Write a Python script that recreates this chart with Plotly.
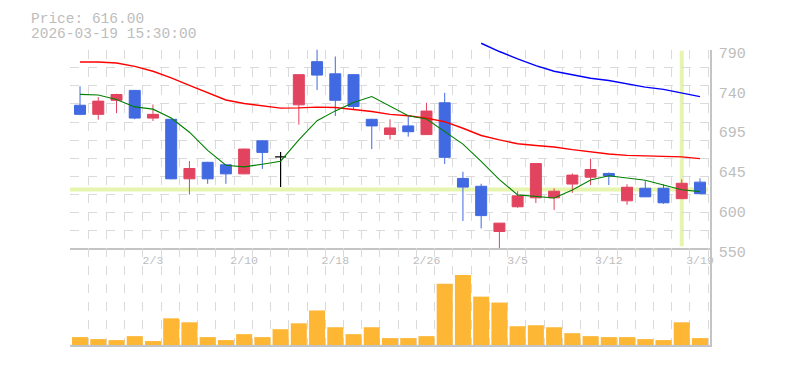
import numpy as np
import plotly.graph_objects as go

# ---------------- data ----------------
dates = ["2026-01-28", "2026-01-29", "2026-01-30", "2026-02-02", "2026-02-03",
         "2026-02-04", "2026-02-05", "2026-02-06", "2026-02-09", "2026-02-10",
         "2026-02-12", "2026-02-13", "2026-02-16", "2026-02-17", "2026-02-18",
         "2026-02-19", "2026-02-20", "2026-02-24", "2026-02-25", "2026-02-26",
         "2026-02-27", "2026-03-02", "2026-03-03", "2026-03-04", "2026-03-05",
         "2026-03-06", "2026-03-09", "2026-03-10", "2026-03-11", "2026-03-12",
         "2026-03-13", "2026-03-16", "2026-03-17", "2026-03-18", "2026-03-19"]

opens = [723, 712, 729, 741, 707.5, 706, 634, 654, 651, 640,
         680, 660.5, 723.5, 775.7, 761, 760, 706, 687.7, 698, 687.5,
         726, 634.5, 625, 570.3, 600.2, 611, 611, 627.7, 636, 640.5,
         607.4, 622.6, 622.6, 610, 630]
highs = [746, 733, 737, 741.5, 724, 706.5, 655.5, 654.5, 651.5, 670.5,
         680.5, 666.5, 760.5, 791, 782, 760.5, 706.5, 706, 709.5, 726,
         738, 642.5, 628, 580.5, 619, 652.5, 622.6, 640.5, 658.5, 641.7,
         627.4, 631.3, 627.4, 633.4, 634.6]
lows = [711, 705.5, 713.5, 706, 704, 633.5, 615, 628, 628, 639.5,
        646, 624, 699.5, 741.5, 710, 718, 670, 681.6, 685, 687,
        652, 583, 574, 550, 599, 604.7, 596.3, 617, 626.5, 626.5,
        602.6, 612, 603.8, 609.5, 615.5]
closes = [712, 728, 736, 707.5, 712, 634, 646.5, 634, 640, 670,
          666, 660.5, 760, 759.5, 729, 721.5, 698, 695.6, 691, 716,
          660, 624, 589.5, 580.4, 613.4, 652.5, 619, 638.5, 645.3, 637.3,
          623.8, 612.2, 605, 628.6, 616]

ma_short = [736.2, 735.4, 730, 721, 718.3, 707.5, 690.4, 668.4, 650.5, 648.5,
            651.7, 655.3, 681, 704.3, 716.2, 726.3, 733.5, 722, 710.3, 706.3,
            691, 676, 655, 633, 614.6, 612.5, 610.8, 620.6, 632.5, 637.8,
            634.6, 632.2, 626.5, 620.8, 618.5]
ma_mid = [775.3, 775.3, 774.1, 770.1, 764.1, 756.2, 747, 738.2, 729.4, 725.1,
          722.2, 719.5, 719.8, 720.7, 720.3, 718.3, 715.5, 712, 710.3, 707.5,
          703.1, 695.2, 686.4, 681.2, 676.4, 674.4, 672.5, 669.3, 666.5, 664.1,
          662.4, 661.7, 661.3, 660.5, 658.5]
ma_long = [None] * 22 + [798, 788, 779, 771, 764.1, 759.8, 755.7, 753, 749,
                         745, 742.2, 738.2, 733.5]

volumes = [80, 60, 50, 90, 40, 270, 230, 80, 50, 110,
           80, 160, 220, 350, 180, 110, 180, 70, 70, 90,
           620, 710, 490, 430, 190, 200, 180, 120, 90, 80,
           80, 60, 50, 230, 70]

tick_dates = ["2026-02-03", "2026-02-10", "2026-02-18", "2026-02-26",
              "2026-03-05", "2026-03-12", "2026-03-19"]
price_tick_labels = ["550", "600", "645", "695", "740", "790"]
price_min, price_max = 550, 790
crosshair_price = 621
crosshair_date = "2026-03-18"
last_time = "15:30:00"

# ---------------- styles ----------------
RED = "#E2445F"
BLUE = "#4169E1"
ORANGE = "#FDB735"
GRID = "#DADADA"
AXIS = "#C4C4C4"
TXT = "#BDBDBD"
CROSS = "#E5F5AE"
MONO = "Liberation Mono, DejaVu Sans Mono, monospace"

W, H = 785, 370
ML, MR, MT, MB = 70, 75, 40, 21
plot_h = H - MT - MB


def py(ypx):
    return (H - MB - ypx) / plot_h


price_top_px, price_bot_px = 50, 251
vol_top = py(price_bot_px)
price_top = py(price_top_px)

xs = list(range(len(dates)))
xrange_ = [-0.55, len(dates) - 0.45]
grid_x = [i + 0.45 for i in range(-1, len(dates))]
grid_y = list(np.linspace(price_min, price_max, 12))
grid_y[-1] = price_max - 1e-6
label_y = list(np.linspace(price_min, price_max, len(price_tick_labels)))
per_px = (price_max - price_min) / (price_bot_px - price_top_px)
ext_top = price_max + (price_top_px - MT) * per_px

is_doji = [o == c for o, c in zip(opens, closes)]
n_idx = [i for i in xs if not is_doji[i]]
d_idx = [i for i in xs if is_doji[i]]

fig = go.Figure()

fig.add_trace(go.Candlestick(
    x=[xs[i] for i in n_idx], open=[opens[i] for i in n_idx],
    high=[highs[i] for i in n_idx], low=[lows[i] for i in n_idx],
    close=[closes[i] for i in n_idx],
    increasing=dict(line=dict(color=RED, width=1), fillcolor=RED),
    decreasing=dict(line=dict(color=BLUE, width=1), fillcolor=BLUE),
    whiskerwidth=0, xaxis="x", yaxis="y", hoverinfo="skip", showlegend=False))
fig.add_trace(go.Candlestick(
    x=[xs[i] for i in d_idx], open=[opens[i] for i in d_idx],
    high=[highs[i] for i in d_idx], low=[lows[i] for i in d_idx],
    close=[closes[i] for i in d_idx],
    increasing=dict(line=dict(color="black", width=1.2), fillcolor="black"),
    decreasing=dict(line=dict(color="black", width=1.2), fillcolor="black"),
    whiskerwidth=0, xaxis="x", yaxis="y", hoverinfo="skip", showlegend=False))

fig.add_trace(go.Scatter(x=xs, y=ma_mid, mode="lines", line=dict(color="#FF0000", width=1.4),
                         xaxis="x", yaxis="y", hoverinfo="skip", showlegend=False))
fig.add_trace(go.Scatter(x=xs, y=ma_short, mode="lines", line=dict(color="#008000", width=1.1),
                         xaxis="x", yaxis="y", hoverinfo="skip", showlegend=False))
fig.add_trace(go.Scatter(x=xs, y=ma_long, mode="lines", line=dict(color="#0000FF", width=1.4),
                         xaxis="x4", yaxis="y4", hoverinfo="skip", showlegend=False))

fig.add_trace(go.Bar(x=xs, y=volumes, marker=dict(color=ORANGE, line=dict(width=0)),
                     width=0.88, xaxis="x2", yaxis="y2", hoverinfo="skip", showlegend=False))

tick_pos = [dates.index(d) for d in tick_dates]
tick_txt = [f"{int(d[5:7])}/{int(d[8:10])}" for d in tick_dates]

minor_x = dict(tickvals=grid_x, showgrid=True, gridcolor=GRID, griddash="dash",
               gridwidth=1, ticks="")

fig.update_layout(
    width=W, height=H, margin=dict(l=ML, r=MR, t=MT, b=MB),
    paper_bgcolor="white", plot_bgcolor="rgba(0,0,0,0)",
    hovermode=False, showlegend=False, boxgap=0.14,
    xaxis=dict(domain=[0, 1], anchor="y", range=xrange_, tickmode="array",
               tickvals=tick_pos, ticktext=tick_txt, showgrid=False, ticks="",
               showline=True, linecolor=AXIS, linewidth=1.5, zeroline=False,
               tickfont=dict(family=MONO, size=11.5, color=TXT),
               minor=minor_x, rangeslider=dict(visible=False), fixedrange=True),
    yaxis=dict(domain=[vol_top, price_top], anchor="x", side="right",
               range=[price_min, price_max], tickmode="array", tickvals=label_y,
               ticktext=price_tick_labels, showgrid=False, ticks="",
               showline=True, linecolor=AXIS, linewidth=1.5, zeroline=False,
               ticklabelshift=3, ticklabelstandoff=4,
               tickfont=dict(family=MONO, size=15, color=TXT),
               minor=dict(tickvals=grid_y, showgrid=True, gridcolor=GRID,
                          griddash="dash", gridwidth=1, ticks="")),
    xaxis2=dict(domain=[0, 1], anchor="y2", range=xrange_, showticklabels=False,
                showgrid=False, ticks="", showline=True, linecolor=AXIS,
                linewidth=1.5, zeroline=False, minor=minor_x),
    yaxis2=dict(domain=[0, vol_top], anchor="x2", side="right",
                range=[0, 980], showticklabels=False, showgrid=False, ticks="",
                showline=True, linecolor=AXIS, linewidth=1.5, zeroline=False),
    xaxis4=dict(domain=[0, 1], anchor="y4", range=xrange_, visible=False),
    yaxis4=dict(domain=[vol_top, 1], anchor="x4", range=[price_min, ext_top],
                visible=False),
    shapes=[
        dict(type="line", xref="x", yref="y", x0=xrange_[0], x1=xrange_[1] - 0.1,
             y0=crosshair_price, y1=crosshair_price,
             line=dict(color=CROSS, width=4), layer="below"),
        dict(type="line", xref="x", yref="y domain",
             x0=dates.index(crosshair_date), x1=dates.index(crosshair_date),
             y0=0.01, y1=0.995, line=dict(color=CROSS, width=4), layer="below"),
    ],
    annotations=[
        dict(xref="paper", yref="paper", x=(29 - ML) / (W - ML - MR), y=py(18.5),
             xanchor="left", yanchor="middle", showarrow=False,
             text=f"Price: {closes[-1]:.2f}",
             font=dict(family=MONO, size=14.5, color=TXT)),
        dict(xref="paper", yref="paper", x=(29 - ML) / (W - ML - MR), y=py(33.5),
             xanchor="left", yanchor="middle", showarrow=False,
             text=f"{dates[-1]} {last_time}",
             font=dict(family=MONO, size=14.5, color=TXT)),
    ],
)

fig.write_html("out.html")
